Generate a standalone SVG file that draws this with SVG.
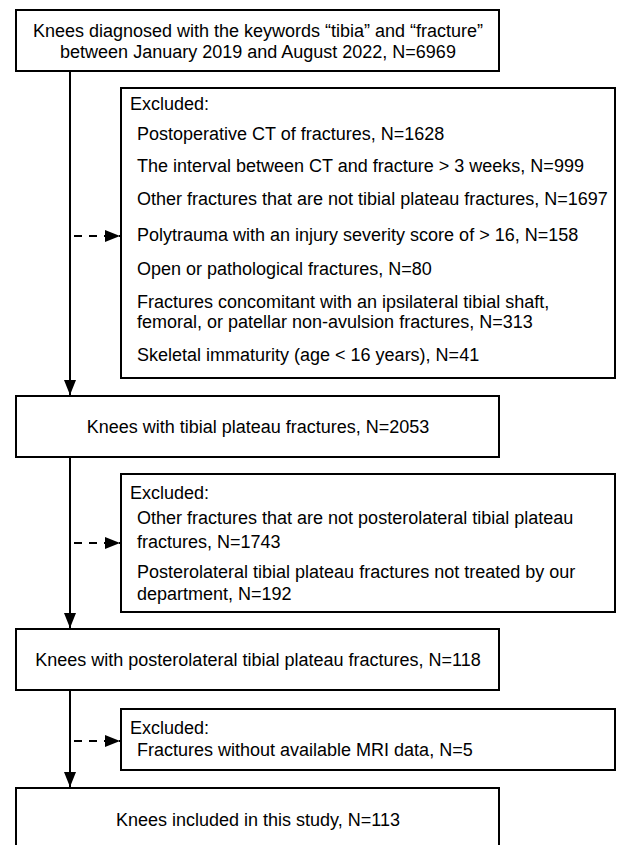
<svg xmlns="http://www.w3.org/2000/svg" width="618" height="845" viewBox="0 0 618 845">
<defs>
<style>
.box{fill:#fff;stroke:#000;stroke-width:2}
.t{font-family:"Liberation Sans",Arial,sans-serif;font-size:18px;fill:#000}
.c{text-anchor:middle}
.ln{stroke:#000;stroke-width:2;fill:none}
.dash{stroke:#000;stroke-width:2;fill:none;stroke-dasharray:8 7}
</style>
<marker id="ah" viewBox="0 0 15 12" refX="15" refY="6" markerWidth="15" markerHeight="12" markerUnits="userSpaceOnUse" orient="auto">
<path d="M0,0 L15,6 L0,12 z" fill="#000"/>
</marker>
</defs>
<rect width="618" height="845" fill="#fff"/>
<g id="connectors">
<line class="ln" x1="70" y1="71" x2="70" y2="395" marker-end="url(#ah)"/>
<line class="ln" x1="70" y1="457" x2="70" y2="628" marker-end="url(#ah)"/>
<line class="ln" x1="70" y1="690" x2="70" y2="787" marker-end="url(#ah)"/>
<line class="dash" x1="74" y1="236" x2="120" y2="236" marker-end="url(#ah)"/>
<line class="dash" x1="74" y1="543" x2="120" y2="543" marker-end="url(#ah)"/>
<line class="dash" x1="74" y1="741" x2="120" y2="741" marker-end="url(#ah)"/>
</g>
<g id="n1">
<rect class="box" x="16" y="10" width="483" height="61"/>
<text class="t c" x="258" y="37">Knees diagnosed with the keywords “tibia” and “fracture”</text>
<text class="t c" x="258" y="58">between January 2019 and August 2022, N=6969</text>
</g>
<g id="ex1">
<rect class="box" x="121" y="88" width="494" height="290"/>
<text class="t" x="130" y="110">Excluded:</text>
<text class="t" x="137" y="140">Postoperative CT of fractures, N=1628</text>
<text class="t" x="137" y="172">The interval between CT and fracture &gt; 3 weeks, N=999</text>
<text class="t" x="137" y="205">Other fractures that are not tibial plateau fractures, N=1697</text>
<text class="t" x="137" y="241">Polytrauma with an injury severity score of &gt; 16, N=158</text>
<text class="t" x="137" y="275">Open or pathological fractures, N=80</text>
<text class="t" x="137" y="308">Fractures concomitant with an ipsilateral tibial shaft,</text>
<text class="t" x="137" y="328">femoral, or patellar non-avulsion fractures, N=313</text>
<text class="t" x="137" y="361">Skeletal immaturity (age &lt; 16 years), N=41</text>
</g>
<g id="n2">
<rect class="box" x="16" y="396" width="483" height="61"/>
<text class="t c" x="258" y="433">Knees with tibial plateau fractures, N=2053</text>
</g>
<g id="ex2">
<rect class="box" x="121" y="474" width="494" height="138"/>
<text class="t" x="130" y="499">Excluded:</text>
<text class="t" x="137" y="524">Other fractures that are not posterolateral tibial plateau</text>
<text class="t" x="137" y="548">fractures, N=1743</text>
<text class="t" x="137" y="578">Posterolateral tibial plateau fractures not treated by our</text>
<text class="t" x="137" y="600">department, N=192</text>
</g>
<g id="n3">
<rect class="box" x="16" y="629" width="483" height="61"/>
<text class="t c" x="258" y="666">Knees with posterolateral tibial plateau fractures, N=118</text>
</g>
<g id="ex3">
<rect class="box" x="121" y="709" width="494" height="61"/>
<text class="t" x="130" y="734">Excluded:</text>
<text class="t" x="137" y="756">Fractures without available MRI data, N=5</text>
</g>
<g id="n4">
<rect class="box" x="16" y="788" width="483" height="70"/>
<text class="t c" x="258" y="826">Knees included in this study, N=113</text>
</g>
</svg>
